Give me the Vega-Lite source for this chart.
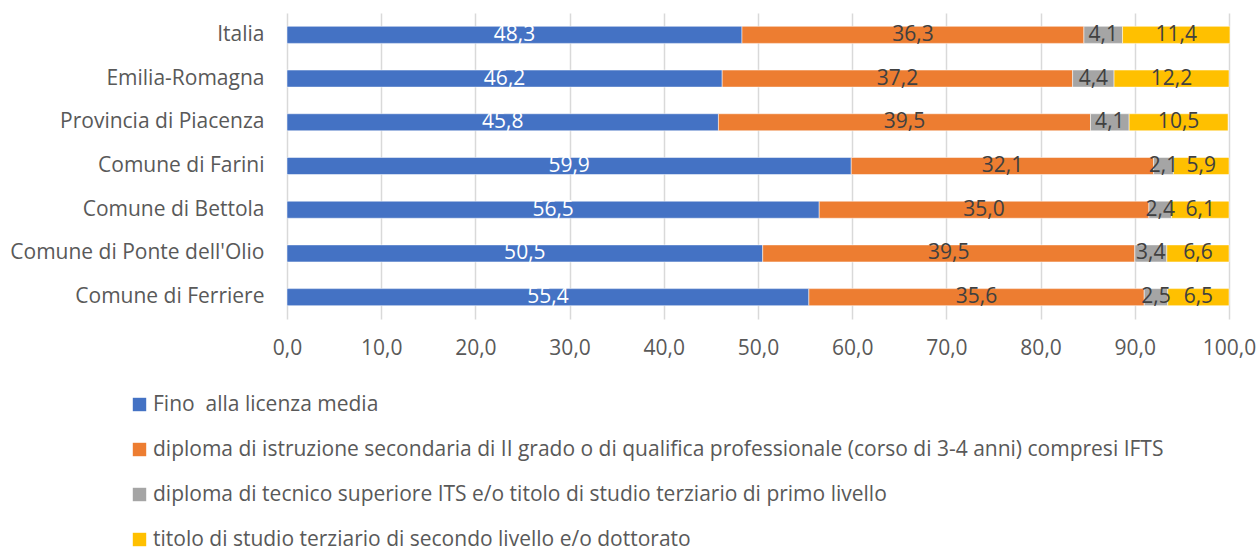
{
  "$schema": "https://vega.github.io/schema/vega-lite/v6.json",
  "width": 942,
  "height": 306,
  "autosize": {"type": "none"},
  "padding": {"left": 287, "top": 13, "right": 29, "bottom": 228},
  "background": "white",
  "config": {
    "locale": {"number": {"decimal": ",", "thousands": ".", "grouping": [3], "currency": ["", " €"]}},
    "view": {"stroke": null},
    "font": "Open Sans"
  },
  "data": {
    "values": [
      {"area": "Italia", "cat": "Fino\u00a0 alla licenza media", "order": 1, "value": 48.3},
      {"area": "Italia", "cat": "diploma di istruzione secondaria di II grado o di qualifica professionale (corso di 3-4 anni) compresi IFTS", "order": 2, "value": 36.3},
      {"area": "Italia", "cat": "diploma di tecnico superiore ITS e/o titolo di studio terziario di primo livello", "order": 3, "value": 4.1},
      {"area": "Italia", "cat": "titolo di studio terziario di secondo livello e/o dottorato", "order": 4, "value": 11.4},
      {"area": "Emilia-Romagna", "cat": "Fino\u00a0 alla licenza media", "order": 1, "value": 46.2},
      {"area": "Emilia-Romagna", "cat": "diploma di istruzione secondaria di II grado o di qualifica professionale (corso di 3-4 anni) compresi IFTS", "order": 2, "value": 37.2},
      {"area": "Emilia-Romagna", "cat": "diploma di tecnico superiore ITS e/o titolo di studio terziario di primo livello", "order": 3, "value": 4.4},
      {"area": "Emilia-Romagna", "cat": "titolo di studio terziario di secondo livello e/o dottorato", "order": 4, "value": 12.2},
      {"area": "Provincia di Piacenza", "cat": "Fino\u00a0 alla licenza media", "order": 1, "value": 45.8},
      {"area": "Provincia di Piacenza", "cat": "diploma di istruzione secondaria di II grado o di qualifica professionale (corso di 3-4 anni) compresi IFTS", "order": 2, "value": 39.5},
      {"area": "Provincia di Piacenza", "cat": "diploma di tecnico superiore ITS e/o titolo di studio terziario di primo livello", "order": 3, "value": 4.1},
      {"area": "Provincia di Piacenza", "cat": "titolo di studio terziario di secondo livello e/o dottorato", "order": 4, "value": 10.5},
      {"area": "Comune di Farini", "cat": "Fino\u00a0 alla licenza media", "order": 1, "value": 59.9},
      {"area": "Comune di Farini", "cat": "diploma di istruzione secondaria di II grado o di qualifica professionale (corso di 3-4 anni) compresi IFTS", "order": 2, "value": 32.1},
      {"area": "Comune di Farini", "cat": "diploma di tecnico superiore ITS e/o titolo di studio terziario di primo livello", "order": 3, "value": 2.1},
      {"area": "Comune di Farini", "cat": "titolo di studio terziario di secondo livello e/o dottorato", "order": 4, "value": 5.9},
      {"area": "Comune di Bettola", "cat": "Fino\u00a0 alla licenza media", "order": 1, "value": 56.5},
      {"area": "Comune di Bettola", "cat": "diploma di istruzione secondaria di II grado o di qualifica professionale (corso di 3-4 anni) compresi IFTS", "order": 2, "value": 35.0},
      {"area": "Comune di Bettola", "cat": "diploma di tecnico superiore ITS e/o titolo di studio terziario di primo livello", "order": 3, "value": 2.4},
      {"area": "Comune di Bettola", "cat": "titolo di studio terziario di secondo livello e/o dottorato", "order": 4, "value": 6.1},
      {"area": "Comune di Ponte dell'Olio", "cat": "Fino\u00a0 alla licenza media", "order": 1, "value": 50.5},
      {"area": "Comune di Ponte dell'Olio", "cat": "diploma di istruzione secondaria di II grado o di qualifica professionale (corso di 3-4 anni) compresi IFTS", "order": 2, "value": 39.5},
      {"area": "Comune di Ponte dell'Olio", "cat": "diploma di tecnico superiore ITS e/o titolo di studio terziario di primo livello", "order": 3, "value": 3.4},
      {"area": "Comune di Ponte dell'Olio", "cat": "titolo di studio terziario di secondo livello e/o dottorato", "order": 4, "value": 6.6},
      {"area": "Comune di Ferriere", "cat": "Fino\u00a0 alla licenza media", "order": 1, "value": 55.4},
      {"area": "Comune di Ferriere", "cat": "diploma di istruzione secondaria di II grado o di qualifica professionale (corso di 3-4 anni) compresi IFTS", "order": 2, "value": 35.6},
      {"area": "Comune di Ferriere", "cat": "diploma di tecnico superiore ITS e/o titolo di studio terziario di primo livello", "order": 3, "value": 2.5},
      {"area": "Comune di Ferriere", "cat": "titolo di studio terziario di secondo livello e/o dottorato", "order": 4, "value": 6.5}
    ]
  },
  "transform": [
    {"stack": "value", "groupby": ["area"], "sort": [{"field": "order"}], "as": ["v0", "v1"]},
    {"calculate": "(datum.v0 + datum.v1) / 2", "as": "mid"}
  ],
  "encoding": {
    "y": {
      "field": "area",
      "type": "nominal",
      "sort": ["Italia", "Emilia-Romagna", "Provincia di Piacenza", "Comune di Farini", "Comune di Bettola", "Comune di Ponte dell'Olio", "Comune di Ferriere"],
      "scale": {"paddingInner": 0.61, "paddingOuter": 0.305},
      "axis": {"title": null, "ticks": false, "domain": false, "labelFontSize": 21, "labelColor": "#595959", "labelPadding": 23, "labelFont": "Open Sans", "labelLimit": 400}
    }
  },
  "layer": [
    {
      "mark": {"type": "bar", "stroke": "white", "strokeWidth": 0.5},
      "encoding": {
        "x": {
          "field": "v0", "type": "quantitative",
          "scale": {"domain": [0, 100], "nice": false},
          "axis": {"title": null, "values": [0, 10, 20, 30, 40, 50, 60, 70, 80, 90, 100], "format": ".1f", "ticks": false, "domain": false, "grid": true, "gridColor": "#d9d9d9", "gridWidth": 1.5, "labelFontSize": 21, "labelColor": "#595959", "labelPadding": 18, "labelFont": "Open Sans", "labelFlush": false}
        },
        "x2": {"field": "v1"},
        "color": {
          "field": "cat", "type": "nominal",
          "sort": {"field": "order"},
          "scale": {
            "domain": ["Fino\u00a0 alla licenza media", "diploma di istruzione secondaria di II grado o di qualifica professionale (corso di 3-4 anni) compresi IFTS", "diploma di tecnico superiore ITS e/o titolo di studio terziario di primo livello", "titolo di studio terziario di secondo livello e/o dottorato"],
            "range": ["#4472C4", "#ED7D31", "#A5A5A5", "#FFC000"]
          },
          "legend": {
            "title": null, "orient": "none", "legendX": -158, "legendY": 381,
            "direction": "vertical", "symbolType": "square", "symbolSize": 180, "symbolStrokeWidth": 0,
            "labelFontSize": 21, "labelColor": "#595959", "labelFont": "Open Sans", "labelOffset": 3,
            "rowPadding": 23, "labelLimit": 1200
          }
        }
      }
    },
    {
      "mark": {"type": "text", "fontSize": 21, "font": "Open Sans", "baseline": "middle", "align": "center"},
      "encoding": {
        "x": {"field": "mid", "type": "quantitative"},
        "text": {"field": "value", "type": "quantitative", "format": ".1f"},
        "color": {
          "condition": {"test": "datum.order === 1", "value": "white"},
          "value": "#404040"
        }
      }
    }
  ]
}
